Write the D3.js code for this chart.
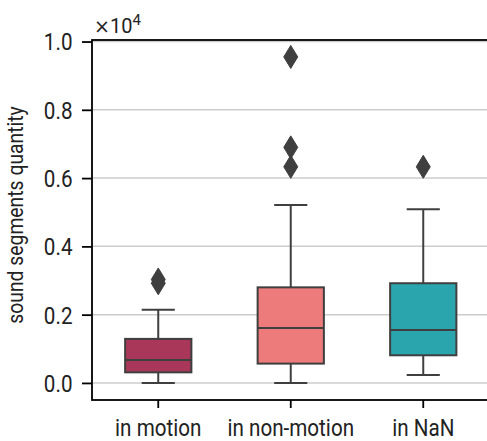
<!DOCTYPE html>
<html><head><meta charset="utf-8">
<script src="https://cdn.jsdelivr.net/npm/d3@7"></script>
<style>
html,body{margin:0;padding:0;background:#fff;}
svg{display:block;font-family:Roboto,"DejaVu Sans",sans-serif;}
</style></head>
<body><svg id="c" width="487" height="441"></svg>
<script>
const categories = ["in motion", "in non-motion", "in NaN"];
const colors = ["#a8375a", "#ee7b7b", "#2aa5ad"];
const whiskerLow  = [0, 0, 230];
const q1          = [310, 566, 810];
const median      = [670, 1610, 1550];
const q3          = [1290, 2800, 2920];
const whiskerHigh = [2140, 5210, 5090];
const fliers      = [[2920, 3030], [6330, 6900, 9550], [6330]];
const yTicks = [0, 2000, 4000, 6000, 8000, 10000];

const svg = d3.select("#c");
const L = 92, R = 489.5, T = 40, B = 400;
const x = d3.scaleBand().domain(categories).range([L, R]).padding(0);
const y = d3.scaleLinear().domain([-500, 10045]).range([B, T]);
const ink = "#3f3f3f";
const textCol = "#222222";
const condense = 0.86;
const fs = 24;

// gridlines
svg.append("g").selectAll("line").data(yTicks).join("line")
  .attr("x1", L).attr("x2", R).attr("y1", d => y(d)).attr("y2", d => y(d))
  .attr("stroke", "#cccccc").attr("stroke-width", 1.5);

const bw = x.bandwidth() * 0.5;
const data = categories.map((c, i) => ({c, i}));
const g = svg.append("g").selectAll("g").data(data).join("g")
  .attr("transform", d => `translate(${x(d.c) + x.bandwidth()/2},0)`);

// whiskers
g.append("line").attr("x1", 0).attr("x2", 0)
  .attr("y1", d => y(whiskerLow[d.i])).attr("y2", d => y(q1[d.i]))
  .attr("stroke", ink).attr("stroke-width", 2);
g.append("line").attr("x1", 0).attr("x2", 0)
  .attr("y1", d => y(q3[d.i])).attr("y2", d => y(whiskerHigh[d.i]))
  .attr("stroke", ink).attr("stroke-width", 2);
// caps
g.append("line").attr("x1", -bw/4).attr("x2", bw/4)
  .attr("y1", d => y(whiskerLow[d.i])).attr("y2", d => y(whiskerLow[d.i]))
  .attr("stroke", ink).attr("stroke-width", 2);
g.append("line").attr("x1", -bw/4).attr("x2", bw/4)
  .attr("y1", d => y(whiskerHigh[d.i])).attr("y2", d => y(whiskerHigh[d.i]))
  .attr("stroke", ink).attr("stroke-width", 2);
// boxes
g.append("rect").attr("x", -bw/2).attr("width", bw)
  .attr("y", d => y(q3[d.i])).attr("height", d => y(q1[d.i]) - y(q3[d.i]))
  .attr("fill", d => colors[d.i]).attr("stroke", ink).attr("stroke-width", 2);
// medians
g.append("line").attr("x1", -bw/2).attr("x2", bw/2)
  .attr("y1", d => y(median[d.i])).attr("y2", d => y(median[d.i]))
  .attr("stroke", ink).attr("stroke-width", 2);
// fliers (thin diamonds)
const dh = 11.5, dw = 7;
g.selectAll("path.fl").data(d => fliers[d.i]).join("path").attr("class", "fl")
  .attr("d", v => `M0,${y(v)-dh}L${dw},${y(v)}L0,${y(v)+dh}L${-dw},${y(v)}Z`)
  .attr("fill", ink).attr("stroke", ink).attr("stroke-width", 1);

// spines
svg.append("rect").attr("x", L).attr("y", T).attr("width", R - L).attr("height", B - T)
  .attr("fill", "none").attr("stroke", "#000").attr("stroke-width", 1.8);

// y axis
const yAxis = svg.append("g").attr("transform", `translate(${L},0)`)
  .call(d3.axisLeft(y).tickValues(yTicks).tickSize(10).tickPadding(9)
    .tickFormat(d => d3.format(".1f")(d / 10000)));
yAxis.select(".domain").remove();
yAxis.selectAll(".tick line").attr("stroke", "#000").attr("stroke-width", 1.8);
yAxis.selectAll(".tick text").attr("font-size", fs).attr("fill", textCol)
  .attr("font-family", "Roboto").attr("dy", "0.35em")
  .attr("transform", `scale(${condense},1)`)
  .attr("x", -19.5 / condense);

// x axis
const xAxis = svg.append("g").attr("transform", `translate(0,${B})`)
  .call(d3.axisBottom(x).tickSize(8).tickPadding(11));
xAxis.select(".domain").remove();
xAxis.selectAll(".tick line").attr("stroke", "#000").attr("stroke-width", 1.8);
xAxis.selectAll(".tick text").attr("font-size", fs).attr("fill", textCol)
  .attr("font-family", "Roboto").attr("transform", `scale(${condense},1)`);

// y label
svg.append("text").attr("transform", `translate(23,215) rotate(-90) scale(0.86,1)`)
  .attr("text-anchor", "middle").attr("font-size", 22.5).attr("fill", textCol)
  .text("sound segments quantity");

// offset text
const off = svg.append("text").attr("x", 94).attr("y", 32.5).attr("font-size", 20).attr("fill", textCol);
off.append("tspan").attr("font-family", "DejaVu Sans").attr("font-size", 19).text("×");
off.append("tspan").attr("font-family", "Roboto").text("10");
off.append("tspan").attr("font-family", "Roboto").attr("font-size", 15).attr("dy", -8).text("4");
</script></body></html>
